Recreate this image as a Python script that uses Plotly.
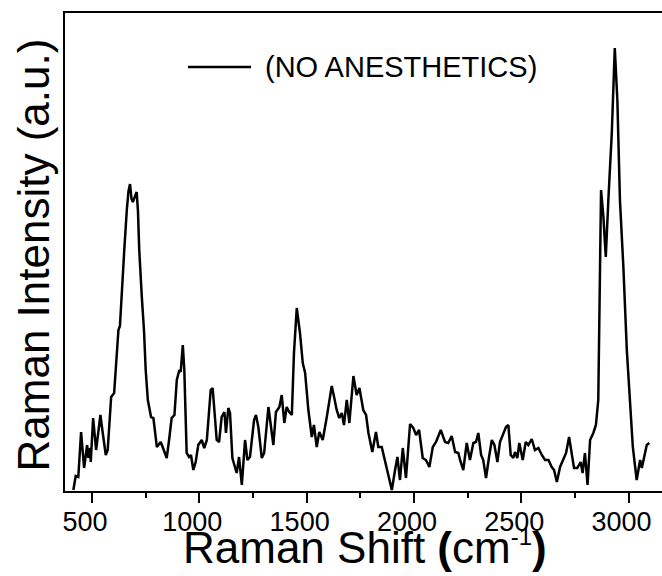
import plotly.graph_objects as go

# Raman shift (cm^-1)
wavenumber = [413, 424, 436, 449, 463, 477, 483, 491, 494, 505, 519, 539, 548, 564, 573, 589, 603, 615, 623, 630,
              638, 651, 662, 670, 677, 684, 690, 700, 708, 714, 720, 732, 742, 750, 760, 775, 786, 802, 820, 829,
              848, 859, 871, 884, 895, 907, 913, 923, 930, 941, 952, 961, 972, 983, 995, 1011, 1023, 1035, 1053,
              1062, 1070, 1081, 1092, 1104, 1117, 1124, 1135, 1143, 1154, 1166, 1174, 1185, 1198, 1213, 1224, 1236,
              1255, 1264, 1275, 1291, 1302, 1322, 1333, 1345, 1357, 1373, 1384, 1396, 1407, 1419, 1431, 1441, 1454,
              1469, 1482, 1493, 1508, 1524, 1534, 1547, 1559, 1575, 1594, 1617, 1628, 1640, 1652, 1664, 1674, 1687,
              1699, 1718, 1733, 1746, 1764, 1777, 1788, 1806, 1823, 1834, 1850, 1861, 1873, 1897, 1912, 1923, 1935,
              1948, 1963, 1982, 1997, 2010, 2024, 2041, 2056, 2072, 2088, 2103, 2125, 2145, 2160, 2176, 2192, 2207,
              2215, 2230, 2246, 2261, 2277, 2289, 2300, 2313, 2323, 2336, 2350, 2363, 2375, 2389, 2401, 2417, 2429,
              2440, 2451, 2463, 2471, 2482, 2491, 2507, 2521, 2533, 2549, 2564, 2580, 2596, 2611, 2627, 2642, 2653,
              2666, 2681, 2696, 2709, 2723, 2735, 2746, 2761, 2777, 2786, 2797, 2809, 2821, 2836, 2848, 2859, 2864,
              2872, 2883, 2894, 2906, 2922, 2936, 2948, 2960, 2976, 2992, 3007, 3020, 3038, 3054, 3062, 3072, 3085,
              3097]

# Raman intensity (a.u.)
intensity = [1, 15, 14, 59, 23, 46, 33, 43, 29, 73, 41, 76, 61, 36, 41, 94, 98, 138, 161, 165,
             201, 244, 281, 300, 307, 292, 289, 295, 299, 280, 241, 194, 161, 121, 91, 74, 73, 44, 49, 44,
             33, 51, 73, 76, 111, 121, 119, 146, 121, 38, 34, 36, 21, 29, 46, 51, 43, 51, 101,
             103, 78, 51, 49, 74, 79, 58, 83, 78, 33, 24, 18, 34, 6, 51, 31, 34,
             71, 76, 64, 33, 38, 84, 64, 46, 79, 84, 96, 68, 84, 79, 76, 138, 183,
             158, 128, 118, 81, 54, 66, 44, 59, 51, 74, 105, 94, 81, 73, 78, 66, 91,
             68, 115, 96, 103, 81, 76, 58, 39, 59, 44, 44, 34, 24, 1, 21, 34, 11,
             43, 13, 67, 63, 56, 61, 33, 31, 24, 44, 49, 61, 49, 48, 55, 39, 38,
             31, 21, 48, 31, 48, 49, 58, 36, 31, 13, 34, 51, 46, 29, 49, 58, 64,
             66, 36, 33, 39, 33, 48, 31, 49, 46, 52, 41, 43, 36, 31, 31, 24, 21,
             9, 24, 31, 38, 54, 39, 23, 23, 29, 18, 38, 6, 51, 58, 66, 91, 191,
             301, 274, 234, 291, 358, 443, 391, 291, 224, 141, 91, 44, 11, 31, 23, 34, 46,
             48]

x_ticks = [500, 1000, 1500, 2000, 2500, 3000]
series_name = "(NO ANESTHETICS)"

FONT = "Liberation Sans, Arial, sans-serif"

fig = go.Figure()
fig.add_trace(go.Scatter(x=wavenumber, y=intensity, mode="lines",
                         line=dict(color="black", width=2.5), showlegend=False))

fig.update_layout(
    width=662, height=576,
    margin=dict(l=65, r=0, t=13, b=85),
    paper_bgcolor="white", plot_bgcolor="white",
    font=dict(family=FONT, color="black"),
    xaxis=dict(
        range=[374, 3156], tickvals=x_ticks, ticks="outside", ticklen=10, tickwidth=2,
        tickcolor="black", showline=True, linewidth=2, linecolor="black", mirror=True,
        showgrid=False, zeroline=False, tickfont=dict(size=27, family=FONT),
        ticklabelshift=-7, ticklabelstandoff=-4,
        minor=dict(dtick=250, tick0=0, ticks="outside", ticklen=5, tickwidth=2, tickcolor="black",
                   showgrid=False),
    ),
    yaxis=dict(
        range=[0, 478], showticklabels=False, ticks="", showline=True, linewidth=2,
        linecolor="black", showgrid=False, zeroline=False,
    ),
    annotations=[
        dict(text="Raman Shift <b>(</b>cm<sup><span style='font-size:24px'>-1</span></sup><b>)</b>",
             xref="paper", yref="paper",
             x=0.5025, y=0, xanchor="center", yanchor="top", yshift=-30, showarrow=False,
             font=dict(size=44, family=FONT)),
        dict(text="Raman Intensity (a.u.)", xref="paper", yref="paper", textangle=-90,
             x=0, y=0.4927, xanchor="center", yanchor="middle", xshift=-32, showarrow=False,
             font=dict(size=44, family=FONT)),
        dict(text=series_name, xref="paper", yref="paper", x=0.3317, y=0.887,
             xanchor="left", yanchor="middle", showarrow=False, font=dict(size=29, family=FONT)),
    ],
    shapes=[
        dict(type="line", xref="paper", yref="paper", x0=0.206, x1=0.3116, y0=0.887, y1=0.887,
             line=dict(color="black", width=2.5)),
    ],
)

fig.write_html("out.html")
